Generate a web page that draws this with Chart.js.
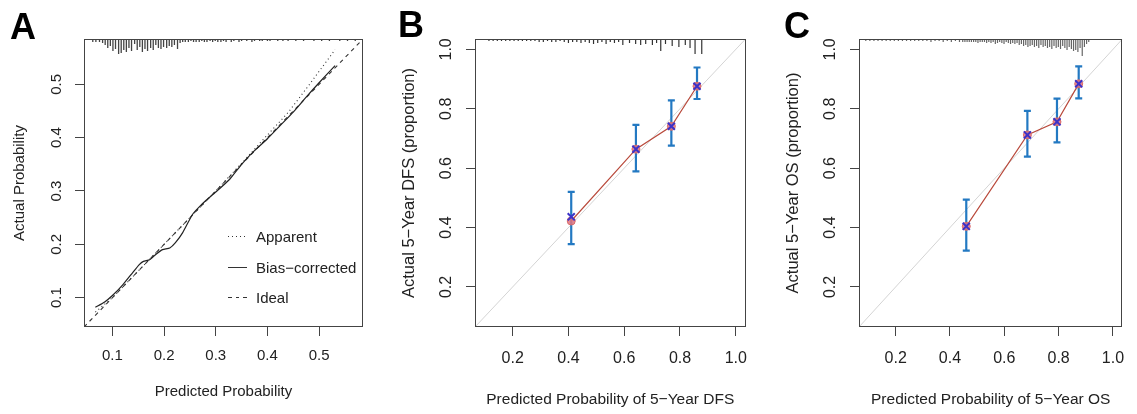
<!DOCTYPE html>
<html lang="en">
<head>
<meta charset="UTF-8">
<title>Calibration curves</title>
<script src="https://cdn.jsdelivr.net/npm/chart.js"></script>
<style>
  body { margin: 0; background: #fff; font-family: "Liberation Sans", Arial, sans-serif; }
  .wrap { position: relative; width: 1137px; height: 414px; overflow: hidden; }
  canvas { position: absolute; top: 0; }
  .tag { position: absolute; font-weight: bold; font-size: 36px; line-height: 1; color: #000; }
  .key { position: absolute; left: 228px; top: 221.5px; font-size: 15px; color: #222; }
  .key div { height: 30.5px; display: flex; align-items: center; }
  .key i { display: inline-block; width: 19px; height: 1px; margin-right: 9px; }
</style>
</head>
<body>
<div class="wrap">
  <canvas id="chartA" width="380" height="414" style="left:0"></canvas>
  <canvas id="chartB" width="380" height="414" style="left:380px"></canvas>
  <canvas id="chartC" width="377" height="414" style="left:760px"></canvas>
  <div class="tag" style="left:10px;top:8.8px">A</div>
  <div class="tag" style="left:398px;top:6.8px">B</div>
  <div class="tag" style="left:784px;top:8.2px">C</div>
  <div class="key">
    <div><i style="background:repeating-linear-gradient(90deg,#333 0 1px,transparent 1px 4px)"></i>Apparent</div>
    <div><i style="background:#333"></i>Bias&minus;corrected</div>
    <div><i style="background:repeating-linear-gradient(90deg,#333 0 4px,transparent 4px 7.5px)"></i>Ideal</div>
  </div>
</div>

<script>
// ---- panel A: calibration curve ----
const aTicks = [0.1, 0.2, 0.3, 0.4, 0.5];
const aApparentX = [0.067, 0.1, 0.15, 0.2, 0.25, 0.3, 0.35, 0.4, 0.44, 0.48, 0.531];
const aApparentY = [0.073, 0.1, 0.15, 0.2, 0.25, 0.3, 0.352, 0.405, 0.447, 0.498, 0.565];
const aBiasX = [0.067, 0.085, 0.1, 0.12, 0.14, 0.152, 0.16, 0.172, 0.185, 0.197, 0.211, 0.222, 0.236, 0.255, 0.27, 0.282, 0.3, 0.327, 0.35, 0.372, 0.4, 0.425, 0.45, 0.475, 0.5, 0.531];
const aBiasY = [0.082, 0.092, 0.104, 0.124, 0.148, 0.162, 0.168, 0.171, 0.182, 0.19, 0.193, 0.203, 0.222, 0.256, 0.272, 0.283, 0.298, 0.322, 0.35, 0.373, 0.398, 0.423, 0.448, 0.476, 0.503, 0.535];
const aRugX = [0.062, 0.068, 0.075, 0.081, 0.086, 0.091, 0.096, 0.101, 0.106, 0.112, 0.117, 0.122, 0.127, 0.132, 0.137, 0.143, 0.148, 0.153, 0.158, 0.163, 0.168, 0.174, 0.179, 0.184, 0.189, 0.194, 0.199, 0.205, 0.21, 0.215, 0.22, 0.226, 0.231, 0.236, 0.241, 0.247, 0.252, 0.257, 0.262, 0.268, 0.273, 0.278, 0.283, 0.289, 0.294, 0.299, 0.304, 0.31, 0.315, 0.32, 0.33, 0.335, 0.345, 0.35, 0.36, 0.37, 0.375, 0.385, 0.39, 0.4, 0.405, 0.42, 0.43, 0.44, 0.455, 0.47, 0.49, 0.505, 0.52, 0.54, 0.555, 0.57];
const aRugN = [3, 3, 3, 4, 6, 9, 7, 12, 10, 15, 14, 11, 13, 9, 12, 5, 11, 8, 13, 10, 12, 9, 11, 6, 9, 10, 8, 9, 7, 8, 6, 10, 4, 3, 3, 3, 2, 3, 3, 3, 2, 3, 3, 2, 3, 2, 3, 3, 2, 3, 3, 2, 3, 2, 2, 3, 2, 2, 2, 2, 2, 2, 2, 2, 2, 2, 2, 2, 2, 2, 2, 2];

// ---- panel B: 5-year DFS ----
const bcTicks = [0.2, 0.4, 0.6, 0.8, 1.0];
const bPred = [0.41, 0.642, 0.769, 0.861];
const bObs = [0.422, 0.664, 0.741, 0.876];
const bCorr = [0.436, 0.664, 0.741, 0.876];
const bLow = [0.344, 0.589, 0.676, 0.833];
const bHigh = [0.52, 0.746, 0.828, 0.939];
const bRugX = [0.115, 0.13, 0.145, 0.16, 0.175, 0.19, 0.205, 0.22, 0.235, 0.25, 0.265, 0.28, 0.295, 0.31, 0.325, 0.34, 0.355, 0.37, 0.385, 0.4, 0.415, 0.43, 0.445, 0.46, 0.475, 0.49, 0.505, 0.52, 0.535, 0.55, 0.565, 0.58, 0.595, 0.619, 0.641, 0.659, 0.677, 0.701, 0.716, 0.731, 0.748, 0.772, 0.796, 0.819, 0.836, 0.854, 0.878];
const bRugN = [2, 2, 2, 2, 2, 2, 2, 2, 2, 2, 2, 2, 3, 3, 2, 3, 3, 2, 3, 4, 3, 3, 4, 3, 4, 5, 4, 3, 5, 3, 4, 3, 6, 4, 5, 6, 5, 6, 4, 12, 5, 7, 8, 6, 9, 15, 15];

// ---- panel C: 5-year OS ----
const cPred = [0.46, 0.685, 0.794, 0.874];
const cObs = [0.404, 0.712, 0.756, 0.884];
const cCorr = [0.404, 0.712, 0.756, 0.884];
const cLow = [0.322, 0.639, 0.687, 0.835];
const cHigh = [0.494, 0.793, 0.834, 0.943];
const cRugX = [0.09, 0.105, 0.12, 0.135, 0.15, 0.165, 0.18, 0.195, 0.21, 0.225, 0.24, 0.255, 0.27, 0.285, 0.3, 0.315, 0.33, 0.345, 0.36, 0.375, 0.39, 0.405, 0.42, 0.435, 0.447, 0.455, 0.463, 0.471, 0.479, 0.487, 0.495, 0.503, 0.511, 0.519, 0.527, 0.535, 0.543, 0.551, 0.559, 0.567, 0.575, 0.583, 0.591, 0.599, 0.607, 0.615, 0.623, 0.631, 0.639, 0.647, 0.655, 0.663, 0.671, 0.679, 0.687, 0.695, 0.703, 0.711, 0.719, 0.727, 0.735, 0.743, 0.751, 0.759, 0.767, 0.775, 0.783, 0.791, 0.799, 0.807, 0.815, 0.823, 0.831, 0.839, 0.847, 0.855, 0.863, 0.871, 0.879, 0.887, 0.895, 0.903, 0.911];
const cRugN = [2, 2, 2, 2, 2, 2, 2, 2, 2, 2, 2, 2, 2, 2, 2, 2, 3, 2, 2, 3, 2, 3, 2, 3, 3, 3, 3, 3, 3, 3, 3, 4, 3, 3, 3, 4, 3, 4, 3, 5, 4, 3, 4, 5, 3, 4, 5, 4, 5, 4, 6, 5, 7, 6, 8, 7, 6, 8, 7, 9, 6, 8, 7, 9, 8, 10, 7, 9, 8, 10, 7, 9, 11, 8, 10, 12, 11, 13, 9, 17, 8, 5, 3];

const FONT = '"Liberation Sans", Arial, sans-serif';
const INK = '#222';

// frame around the plot region, like R's box()
const boxFrame = {
  id: 'boxFrame',
  afterDraw(chart) {
    const { ctx, chartArea: a } = chart;
    ctx.save();
    ctx.strokeStyle = '#444';
    ctx.lineWidth = 1;
    ctx.strokeRect(Math.round(a.left) + 0.5, Math.round(a.top) + 0.5, Math.round(a.right - a.left) - 1, Math.round(a.bottom - a.top) - 1);
    ctx.restore();
  }
};

function pairs(xs, ys) {
  return xs.map((x, i) => ({ x: x, y: ys[i] }));
}

// vertical segments separated by gaps
function segs(xs, lo, hi) {
  const out = [];
  xs.forEach((x, i) => {
    out.push({ x: x, y: lo[i] }, { x: x, y: hi[i] }, { x: x, y: null });
  });
  return out;
}

function rug(xs, ns, top, unit) {
  return segs(xs, xs.map((x, i) => top - ns[i] * unit), xs.map(() => top));
}

function axes(o) {
  return {
    x: {
      type: 'linear', min: o.min, max: o.max,
      afterBuildTicks: s => { s.ticks = o.ticks.map(v => ({ value: v })); },
      afterFit: s => { s.height = 87; },
      grid: { drawOnChartArea: false, drawTicks: true, tickLength: 9, color: '#444' },
      border: { display: false },
      ticks: { autoSkip: false, maxRotation: 0, padding: o.xpad, color: INK,
        font: { size: o.tf, family: FONT }, callback: v => v.toFixed(1) },
      title: { display: true, text: o.xtitle, color: INK,
        font: { size: o.xtf, family: FONT }, padding: { top: 0, bottom: o.xtpad } }
    },
    y: {
      type: 'linear', min: o.min, max: o.ymax,
      afterBuildTicks: s => { s.ticks = o.ticks.map(v => ({ value: v })); },
      afterFit: s => { s.width = o.yw; },
      grid: { drawOnChartArea: false, drawTicks: true, tickLength: 9, color: '#444' },
      border: { display: false },
      ticks: { autoSkip: false, minRotation: 90, maxRotation: 90, crossAlign: 'center',
        padding: o.ypad, color: INK, font: { size: o.tf, family: FONT }, callback: v => v.toFixed(1) },
      title: { display: true, text: o.ytitle, color: INK,
        font: { size: o.ytf, family: FONT }, padding: { top: o.ytpad, bottom: 0 } }
    }
  };
}

const common = {
  responsive: false,
  animation: false,
  events: [],
  plugins: { legend: { display: false }, tooltip: { enabled: false } }
};

// panel A
const aMin = 0.045, aMax = 0.585;
new Chart(document.getElementById('chartA'), {
  type: 'scatter',
  data: {
    datasets: [
      { data: pairs(aBiasX, aBiasY), showLine: true, borderColor: '#222', borderWidth: 1.2, pointRadius: 0, tension: 0.2, order: 0 },
      { data: pairs(aApparentX, aApparentY), showLine: true, borderColor: '#333', borderWidth: 1.1, borderDash: [1, 3], pointRadius: 0, order: 1 },
      { data: [{ x: aMin, y: aMin }, { x: aMax, y: aMax }], showLine: true, borderColor: '#333', borderWidth: 1.1, borderDash: [4, 4], pointRadius: 0, order: 2 },
      { data: rug(aRugX, aRugN, aMax, (aMax - aMin) / 288), showLine: true, spanGaps: false, borderColor: '#444', borderWidth: 1.3, pointRadius: 0, order: 3 }
    ]
  },
  options: Object.assign({}, common, {
    layout: { padding: { top: 39, right: 17, left: 0, bottom: 0 } },
    scales: axes({ min: aMin, max: aMax, ymax: aMax, ticks: aTicks, yw: 84,
      tf: 15, xpad: 10.7, ypad: 7.3, xtf: 15, ytf: 15, xtpad: 13, ytpad: 11,
      xtitle: 'Predicted Probability', ytitle: 'Actual Probability' })
  }),
  plugins: [boxFrame]
});

// panels B and C share the same layout
function survivalPanel(id, pred, obs, corr, low, high, rugX, rugN, o) {
  const lo = 0.065, hi = 1.035;
  new Chart(document.getElementById(id), {
    type: 'scatter',
    data: {
      datasets: [
        { data: pairs(pred, corr), pointStyle: 'crossRot', pointRadius: 5, pointBorderWidth: 2, pointBorderColor: '#3b32c8', order: 0 },
        { data: pairs(pred, obs), showLine: true, borderColor: '#b94a3c', borderWidth: 1.2,
          pointStyle: 'circle', pointRadius: 4, pointBackgroundColor: 'rgba(226,118,128,0.85)', pointBorderColor: '#d86a6a', pointBorderWidth: 1, order: 1 },
        { data: segs(pred, low, high), showLine: true, spanGaps: false, borderColor: '#2379c2', borderWidth: 2.2,
          pointStyle: 'line', pointRadius: 3.5, pointBorderWidth: 2.2, pointBorderColor: '#2379c2', order: 2 },
        { data: rug(rugX, rugN, hi, (hi - lo) / 288), showLine: true, spanGaps: false, borderColor: o.rugColor, borderWidth: 1.2, pointRadius: 0, order: 3 },
        { data: [{ x: lo, y: lo }, { x: hi, y: hi }], showLine: true, borderColor: '#d4d4d4', borderWidth: 1, pointRadius: 0, order: 4 }
      ]
    },
    options: Object.assign({}, common, {
      layout: { padding: { top: 39, right: o.right, left: 0, bottom: 0 } },
      scales: axes({ min: lo, max: hi, ymax: hi, ticks: bcTicks, yw: o.yw,
        tf: 16, xpad: 12.7, ypad: 8.2, xtf: 15.5, ytf: 16.5, xtpad: o.xtpad, ytpad: o.ytpad,
        xtitle: o.xtitle, ytitle: o.ytitle })
    }),
    plugins: [boxFrame]
  });
}

survivalPanel('chartB', bPred, bObs, bCorr, bLow, bHigh, bRugX, bRugN, {
  right: 11, yw: 95, xtpad: 5.4, ytpad: 19.4, rugColor: '#333',
  xtitle: 'Predicted Probability of 5\u2212Year DFS', ytitle: 'Actual 5\u2212Year DFS (proportion)'
});
survivalPanel('chartC', cPred, cObs, cCorr, cLow, cHigh, cRugX, cRugN, {
  right: 4.3, yw: 99, xtpad: 4.7, ytpad: 23.4, rugColor: '#666',
  xtitle: 'Predicted Probability of 5\u2212Year OS', ytitle: 'Actual 5\u2212Year OS (proportion)'
});
</script>
</body>
</html>
